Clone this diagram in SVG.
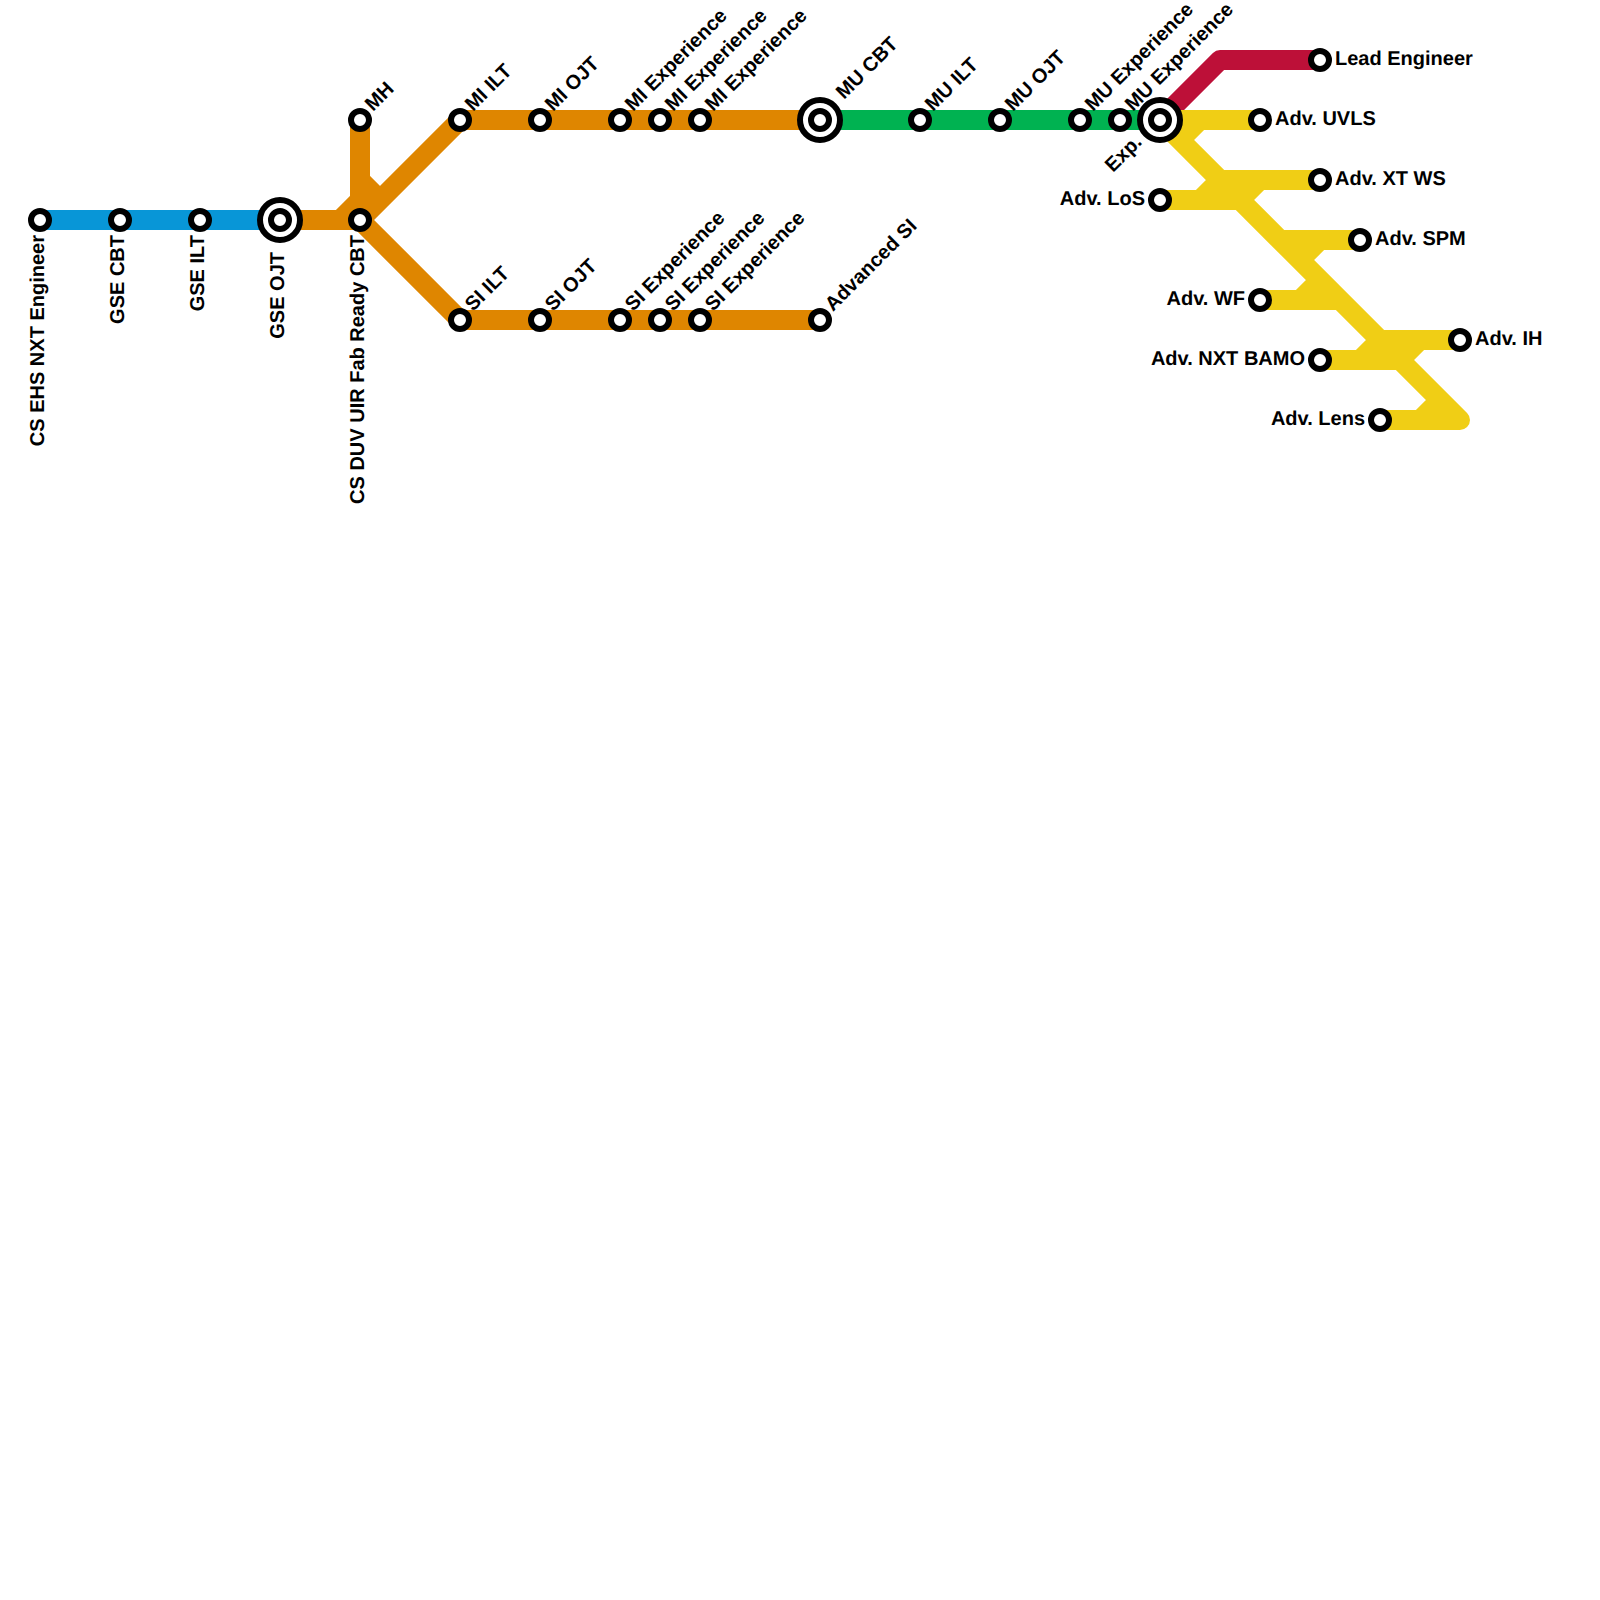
<svg xmlns="http://www.w3.org/2000/svg" width="1600" height="1600" viewBox="0 0 1600 1600">
<style>
.l{fill:none;stroke-width:20;stroke-linejoin:round;stroke-linecap:butt}
.s{fill:#fff;stroke:#000;stroke-width:6}
.x{fill:#fff;stroke:#000;stroke-width:6}
text{font-family:"Liberation Sans",Arial,sans-serif;font-weight:bold;font-size:20px;fill:#000;text-rendering:geometricPrecision}
.e{text-anchor:end}
</style>
<rect width="1600" height="1600" fill="#fff"/>
<g id="connectors">
<path class="l" stroke="#0896d7" d="M40 220H280"/>
<path class="l" stroke="#df8600" d="M280 220H360M280 220H340L360 200M360 120V220M360 180L380 200M360 220L460 120H820M360 220L460 320H820"/>
<path class="l" stroke="#00b251" d="M820 120H1160"/>
<path class="l" stroke="#bd1038" d="M1160 120L1220 60H1320"/>
<path class="l" stroke="#f0ce15" d="M1260 120H1200L1180 140M1160 120H1200M1160 120L1460 420H1380M1160 200H1240M1200 200L1220 180M1320 180H1260L1240 200M1220 180H1320M1360 240H1320L1300 260M1280 240H1360M1260 300H1300L1320 280M1260 300H1340M1460 340H1420L1400 360M1380 340H1460M1320 360H1360L1380 340M1320 360H1400M1380 420H1420L1440 400"/>
</g>
<g id="n1"><circle class="s" cx="40" cy="220" r="9"/><text class="e" transform="translate(44 235) rotate(-90)">CS EHS NXT Engineer</text></g>
<g id="n2"><circle class="s" cx="120" cy="220" r="9"/><text class="e" transform="translate(124 235) rotate(-90)">GSE CBT</text></g>
<g id="n3"><circle class="s" cx="200" cy="220" r="9"/><text class="e" transform="translate(204 235) rotate(-90)">GSE ILT</text></g>
<g id="n4"><circle class="x" cx="280" cy="220" r="20"/><circle class="s" cx="280" cy="220" r="9"/><text class="e" transform="translate(284 252) rotate(-90)">GSE OJT</text></g>
<g id="n5"><circle class="s" cx="360" cy="220" r="9"/><text class="e" transform="translate(364 235) rotate(-90)">CS DUV UIR Fab Ready CBT</text></g>
<g id="n6"><circle class="s" cx="360" cy="120" r="9"/><text transform="translate(373 112) rotate(-45)">MH</text></g>
<g id="n7"><circle class="s" cx="460" cy="120" r="9"/><text transform="translate(473 112) rotate(-45)">MI ILT</text></g>
<g id="n8"><circle class="s" cx="540" cy="120" r="9"/><text transform="translate(553 112) rotate(-45)">MI OJT</text></g>
<g id="n9"><circle class="s" cx="620" cy="120" r="9"/><text transform="translate(633 112) rotate(-45)">MI Experience</text></g>
<g id="n10"><circle class="s" cx="660" cy="120" r="9"/><text transform="translate(673 112) rotate(-45)">MI Experience</text></g>
<g id="n11"><circle class="s" cx="700" cy="120" r="9"/><text transform="translate(713 112) rotate(-45)">MI Experience</text></g>
<g id="n12"><circle class="x" cx="820" cy="120" r="20"/><circle class="s" cx="820" cy="120" r="9"/><text transform="translate(844 100) rotate(-45)">MU CBT</text></g>
<g id="n13"><circle class="s" cx="920" cy="120" r="9"/><text transform="translate(933 112) rotate(-45)">MU ILT</text></g>
<g id="n14"><circle class="s" cx="1000" cy="120" r="9"/><text transform="translate(1013 112) rotate(-45)">MU OJT</text></g>
<g id="n15"><circle class="s" cx="1080" cy="120" r="9"/><text transform="translate(1093 112) rotate(-45)">MU Experience</text></g>
<g id="n16"><circle class="s" cx="1120" cy="120" r="9"/><text transform="translate(1133 112) rotate(-45)">MU Experience</text></g>
<g id="n17"><circle class="x" cx="1160" cy="120" r="20"/><circle class="s" cx="1160" cy="120" r="9"/><text class="e" transform="translate(1143 143) rotate(-45)">Exp.</text></g>
<g id="n18"><circle class="s" cx="460" cy="320" r="9"/><text transform="translate(473 312) rotate(-45)">SI ILT</text></g>
<g id="n19"><circle class="s" cx="540" cy="320" r="9"/><text transform="translate(553 312) rotate(-45)">SI OJT</text></g>
<g id="n20"><circle class="s" cx="620" cy="320" r="9"/><text transform="translate(633 312) rotate(-45)">SI Experience</text></g>
<g id="n21"><circle class="s" cx="660" cy="320" r="9"/><text transform="translate(673 312) rotate(-45)">SI Experience</text></g>
<g id="n22"><circle class="s" cx="700" cy="320" r="9"/><text transform="translate(713 312) rotate(-45)">SI Experience</text></g>
<g id="n23"><circle class="s" cx="820" cy="320" r="9"/><text transform="translate(833 312) rotate(-45)">Advanced SI</text></g>
<g id="n24"><circle class="s" cx="1320" cy="60" r="9"/><text x="1335" y="65">Lead Engineer</text></g>
<g id="n25"><circle class="s" cx="1260" cy="120" r="9"/><text x="1275" y="125">Adv. UVLS</text></g>
<g id="n26"><circle class="s" cx="1320" cy="180" r="9"/><text x="1335" y="185">Adv. XT WS</text></g>
<g id="n27"><circle class="s" cx="1160" cy="200" r="9"/><text class="e" x="1145" y="205">Adv. LoS</text></g>
<g id="n28"><circle class="s" cx="1360" cy="240" r="9"/><text x="1375" y="245">Adv. SPM</text></g>
<g id="n29"><circle class="s" cx="1260" cy="300" r="9"/><text class="e" x="1245" y="305">Adv. WF</text></g>
<g id="n30"><circle class="s" cx="1460" cy="340" r="9"/><text x="1475" y="345">Adv. IH</text></g>
<g id="n31"><circle class="s" cx="1320" cy="360" r="9"/><text class="e" x="1305" y="365">Adv. NXT BAMO</text></g>
<g id="n32"><circle class="s" cx="1380" cy="420" r="9"/><text class="e" x="1365" y="425">Adv. Lens</text></g>
</svg>
